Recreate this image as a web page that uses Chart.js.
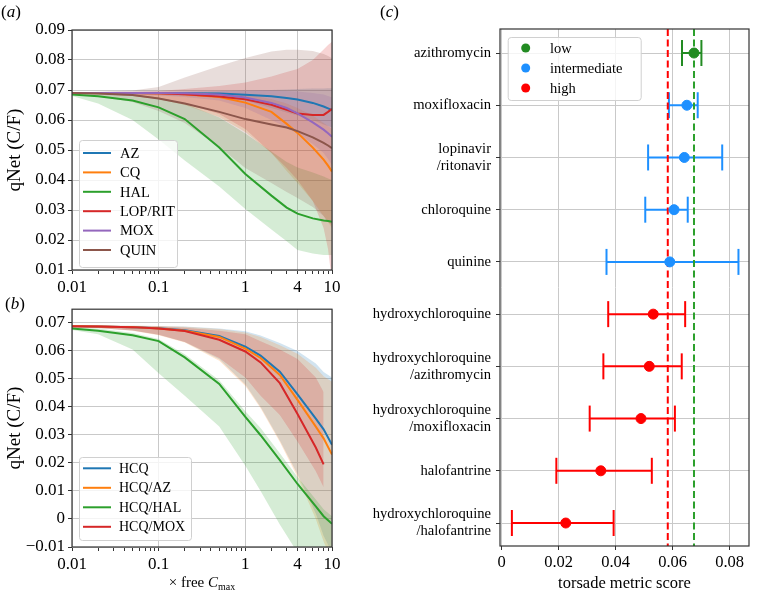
<!DOCTYPE html>
<html>
<head>
<meta charset="utf-8">
<script src="https://cdn.jsdelivr.net/npm/chart.js@4.4.1/dist/chart.umd.min.js"></script>
<style>
  body { margin: 0; background: #fff; width: 764px; height: 594px; position: relative; overflow: hidden;
         font-family: 'Liberation Serif', serif; }
  canvas { position: absolute; }
  .tag { position: absolute; font-size: 17px; color: #000; }
</style>
</head>
<body>
<canvas id="ca" width="370" height="300" style="left:0;top:0"></canvas>
<canvas id="cb" width="370" height="298" style="left:0;top:296px"></canvas>
<canvas id="cc" width="404" height="594" style="left:360px;top:0"></canvas>
<div class="tag" style="left:1px;top:2px">(<i>a</i>)</div>
<div class="tag" style="left:5px;top:294px">(<i>b</i>)</div>
<div class="tag" style="left:380px;top:2px">(<i>c</i>)</div>
<script>
// ---- panel (a): qNet vs concentration, single drugs ----
const xA = [0.01, 0.02, 0.05, 0.1, 0.2, 0.5, 1, 2, 3, 4, 6, 8, 9, 10];
const azMid = [0.069, 0.069, 0.069, 0.069, 0.0689, 0.0688, 0.0684, 0.0679, 0.0673, 0.0668, 0.0657, 0.0645, 0.0639, 0.0633];
const azLo  = [0.0688, 0.0687, 0.0685, 0.0683, 0.068, 0.0675, 0.0665, 0.064, 0.0625, 0.0615, 0.06, 0.0585, 0.058, 0.0575];
const azHi  = [0.0692, 0.0692, 0.0692, 0.0693, 0.0694, 0.0696, 0.0698, 0.07, 0.0702, 0.0703, 0.0705, 0.0705, 0.0706, 0.0706];
const cqMid = [0.069, 0.069, 0.069, 0.0689, 0.0686, 0.0677, 0.0658, 0.0627, 0.0587, 0.0557, 0.0508, 0.0468, 0.0448, 0.0428];
const cqLo  = [0.0688, 0.0686, 0.068, 0.067, 0.065, 0.061, 0.056, 0.049, 0.043, 0.039, 0.033, 0.028, 0.026, 0.024];
const cqHi  = [0.0692, 0.0692, 0.0692, 0.0692, 0.0692, 0.069, 0.0685, 0.067, 0.0655, 0.064, 0.0615, 0.059, 0.058, 0.057];
const halMid = [0.0685, 0.0679, 0.0665, 0.0642, 0.0603, 0.0508, 0.042, 0.0348, 0.0308, 0.0288, 0.0272, 0.0265, 0.0263, 0.0261];
const halLo  = [0.068, 0.0655, 0.06, 0.0535, 0.0465, 0.0378, 0.0303, 0.0235, 0.0196, 0.0167, 0.0155, 0.015, 0.015, 0.015];
const halHi  = [0.069, 0.0689, 0.0685, 0.0675, 0.0655, 0.0608, 0.0555, 0.0495, 0.046, 0.0442, 0.0425, 0.0412, 0.0405, 0.04];
const lopMid = [0.069, 0.069, 0.069, 0.0689, 0.0686, 0.0678, 0.0669, 0.0651, 0.0634, 0.0622, 0.0617, 0.0617, 0.0627, 0.0637];
const lopLo  = [0.0688, 0.0686, 0.068, 0.067, 0.0655, 0.062, 0.057, 0.049, 0.044, 0.04, 0.033, 0.024, 0.017, 0.006];
const lopHi  = [0.0692, 0.0693, 0.0694, 0.0697, 0.0703, 0.0713, 0.0725, 0.0745, 0.076, 0.077, 0.08, 0.0835, 0.085, 0.0861];
const moxMid = [0.069, 0.069, 0.069, 0.069, 0.0689, 0.0685, 0.0675, 0.0657, 0.064, 0.0622, 0.0592, 0.0568, 0.0556, 0.0544];
const moxLo  = [0.0688, 0.0687, 0.0685, 0.0682, 0.0677, 0.0665, 0.064, 0.06, 0.0575, 0.0555, 0.052, 0.049, 0.047, 0.045];
const moxHi  = [0.0692, 0.0692, 0.0693, 0.0694, 0.0695, 0.0697, 0.0698, 0.0698, 0.0697, 0.0695, 0.069, 0.0685, 0.068, 0.0675];
const quinMid = [0.069, 0.0688, 0.0683, 0.0672, 0.0655, 0.0627, 0.0603, 0.0585, 0.0575, 0.0563, 0.0542, 0.0524, 0.0515, 0.0506];
const quinLo  = [0.0688, 0.068, 0.066, 0.063, 0.059, 0.051, 0.044, 0.039, 0.036, 0.034, 0.031, 0.028, 0.026, 0.025];
const quinHi  = [0.0692, 0.0694, 0.0698, 0.071, 0.0742, 0.078, 0.0807, 0.0828, 0.0834, 0.0834, 0.083, 0.082, 0.0813, 0.0806];
const yTicksA = [0.01, 0.02, 0.03, 0.04, 0.05, 0.06, 0.07, 0.08, 0.09];

// ---- panel (b): hydroxychloroquine combinations ----
const xB = [0.01, 0.02, 0.05, 0.1, 0.2, 0.5, 1, 1.5, 2.5, 4, 6.5, 8, 10];
const hcqMid = [0.0688, 0.0687, 0.0685, 0.0681, 0.0674, 0.0653, 0.0615, 0.0583, 0.0526, 0.0445, 0.0358, 0.032, 0.0265];
const hcqLo  = [0.0686, 0.0682, 0.0673, 0.0658, 0.0632, 0.057, 0.048, 0.04, 0.028, 0.016, 0.002, -0.006, -0.012];
const hcqHi  = [0.069, 0.069, 0.069, 0.0689, 0.0687, 0.068, 0.067, 0.0655, 0.0628, 0.060, 0.0555, 0.0525, 0.0505];
const hcqAzMid = [0.0688, 0.0687, 0.0685, 0.068, 0.0672, 0.065, 0.0608, 0.0575, 0.0514, 0.0425, 0.033, 0.0288, 0.023];
const hcqAzLo  = [0.0686, 0.0682, 0.0672, 0.0656, 0.063, 0.0565, 0.0475, 0.0395, 0.0275, 0.015, 0.0, -0.008, -0.015];
const hcqAzHi  = [0.069, 0.069, 0.069, 0.0689, 0.0686, 0.0678, 0.0666, 0.065, 0.062, 0.059, 0.054, 0.051, 0.049];
const hcqHalMid = [0.068, 0.0672, 0.0656, 0.0635, 0.0577, 0.0482, 0.0365, 0.0299, 0.021, 0.0125, 0.0045, 0.001, -0.0017];
const hcqHalLo  = [0.0675, 0.066, 0.0605, 0.052, 0.044, 0.033, 0.019, 0.01, -0.002, -0.012, -0.02, -0.024, -0.028];
const hcqHalHi  = [0.0685, 0.068, 0.0664, 0.0643, 0.0588, 0.0495, 0.0385, 0.0325, 0.0235, 0.015, 0.007, 0.0035, 0.001];
const hcqMoxMid = [0.0688, 0.0687, 0.0685, 0.068, 0.0671, 0.064, 0.0598, 0.0559, 0.0485, 0.0375, 0.0255, 0.0195, null];
const hcqMoxLo  = [0.0686, 0.0682, 0.0673, 0.0658, 0.0632, 0.0575, 0.0505, 0.044, 0.0371, 0.0277, 0.017, 0.0113, null];
const hcqMoxHi  = [0.069, 0.069, 0.0689, 0.0687, 0.0683, 0.0672, 0.066, 0.0635, 0.0605, 0.0571, 0.0505, 0.0453, null];
const yTicksB = [-0.01, 0, 0.01, 0.02, 0.03, 0.04, 0.05, 0.06, 0.07];

// log axis ticks shared by (a) and (b)
const logTicks = [0.01, 0.02, 0.03, 0.04, 0.05, 0.06, 0.07, 0.08, 0.09,
                  0.1, 0.2, 0.3, 0.4, 0.5, 0.6, 0.7, 0.8, 0.9,
                  1, 2, 3, 4, 5, 6, 7, 8, 9, 10];
const logLabels = [0.01, 0.1, 1, 4, 10];

// ---- panel (c): torsade metric score ----
const drugs = [['azithromycin'], ['moxifloxacin'], ['lopinavir', '/ritonavir'], ['chloroquine'], ['quinine'],
               ['hydroxychloroquine'], ['hydroxychloroquine', '/azithromycin'], ['hydroxychloroquine', '/moxifloxacin'],
               ['halofantrine'], ['hydroxychloroquine', '/halofantrine']];
const score   = [0.0675, 0.0650, 0.0641, 0.0605, 0.0590, 0.0532, 0.0518, 0.0489, 0.0348, 0.0225];
const scoreLo = [0.0633, 0.0587, 0.0514, 0.0504, 0.0368, 0.0374, 0.0357, 0.0309, 0.0192, 0.0036];
const scoreHi = [0.0701, 0.0688, 0.0774, 0.0653, 0.0831, 0.0644, 0.0632, 0.0608, 0.0527, 0.0393];
const risk = ['low', 'intermediate', 'intermediate', 'intermediate', 'intermediate', 'high', 'high', 'high', 'high', 'high'];
const riskNames = ['low', 'intermediate', 'high'];
const thresholds = [0.0583, 0.0675];
const xTicksC = [0, 0.02, 0.04, 0.06, 0.08];

const FAM = '"Liberation Serif", "Times New Roman", serif';
const GRID = '#c9c9c9';
const AX = '#333';
const tab = { blue: '#1f77b4', orange: '#ff7f0e', green: '#2ca02c', red: '#d62728', purple: '#9467bd', brown: '#8c564b' };
const riskColor = { low: '#228b22', intermediate: '#1e90ff', high: '#ff0000' };
const thrColor = ['#ff0000', '#2ca02c'];

function alpha(hex, a) {
  const n = parseInt(hex.slice(1), 16);
  return `rgba(${n >> 16},${(n >> 8) & 255},${n & 255},${a})`;
}

// lines on top; bands painted in series order (first series at the bottom), like matplotlib
function seriesDatasets(xs, list) {
  const lines = list.map((s, k) => ({
    label: s.label, data: xs.map((x, i) => ({ x, y: s.mid[i] })),
    borderColor: s.color, borderWidth: 2, pointRadius: 0, fill: false, order: 1 - k * 0.01, spanGaps: false
  }));
  const bands = [];
  list.forEach((s, k) => {
    bands.push({ data: xs.map((x, i) => ({ x, y: s.hi[i] })), borderWidth: 0, pointRadius: 0,
                 backgroundColor: alpha(s.color, 0.2), fill: '+1', order: 20 - k, spanGaps: false });
    bands.push({ data: xs.map((x, i) => ({ x, y: s.lo[i] })), borderWidth: 0, pointRadius: 0,
                 fill: false, order: 20 - k, spanGaps: false });
  });
  return lines.concat(bands);
}

// box around the plotting area
const frame = {
  id: 'frame',
  afterDatasetsDraw(chart) {
    const { ctx, chartArea: a } = chart;
    ctx.save();
    ctx.strokeStyle = AX; ctx.lineWidth = 1.2;
    ctx.strokeRect(a.left, a.top, a.right - a.left, a.bottom - a.top);
    ctx.restore();
  }
};

// matplotlib-like legend box, items taken from labelled datasets
const boxLegend = {
  id: 'boxLegend',
  afterDraw(chart, args, o) {
    if (!o || !o.width) return;
    const ctx = chart.ctx;
    const items = chart.data.datasets.filter(d => d.label);
    ctx.save();
    ctx.fillStyle = 'rgba(255,255,255,0.8)';
    ctx.strokeStyle = '#d0d0d0'; ctx.lineWidth = 1;
    ctx.beginPath();
    ctx.roundRect(o.left + 0.5, o.top + 0.5, o.width, o.height, 3);
    ctx.fill(); ctx.stroke();
    ctx.font = o.font; ctx.textBaseline = 'middle'; ctx.textAlign = 'left';
    items.forEach((d, i) => {
      const y = o.firstRow + i * o.rowH;
      if (o.marker === 'circle') {
        ctx.fillStyle = d.backgroundColor;
        ctx.beginPath(); ctx.arc(o.sampleX, y, 4.5, 0, Math.PI * 2); ctx.fill();
      } else {
        ctx.strokeStyle = d.borderColor; ctx.lineWidth = 2;
        ctx.beginPath(); ctx.moveTo(o.sampleX, y); ctx.lineTo(o.sampleX + o.sampleW, y); ctx.stroke();
      }
      ctx.fillStyle = '#000';
      ctx.fillText(d.label, o.textX, y + 1);
    });
    ctx.restore();
  }
};

// x title with italic symbol and subscript
const subTitle = {
  id: 'subTitle',
  afterDraw(chart, args, o) {
    if (!o || !o.parts) return;
    const { ctx, chartArea: a } = chart;
    ctx.save(); ctx.fillStyle = '#000'; ctx.textBaseline = 'alphabetic'; ctx.textAlign = 'left';
    let total = 0;
    const w = o.parts.map(p => { ctx.font = p.font; const m = ctx.measureText(p.text).width; total += m; return m; });
    let x = (a.left + a.right) / 2 - total / 2;
    o.parts.forEach((p, i) => { ctx.font = p.font; ctx.fillText(p.text, x, o.y + (p.dy || 0)); x += w[i]; });
    ctx.restore();
  }
};

Chart.register(frame, boxLegend, subTitle);
Chart.defaults.font.family = FAM;
Chart.defaults.color = '#000';

function logX(height) {
  return {
    type: 'logarithmic', min: 0.01, max: 10,
    afterBuildTicks: s => { s.ticks = logTicks.map(v => ({ value: v })); },
    ticks: { autoSkip: false, maxRotation: 0, padding: 3, font: { size: 17 }, color: '#000',
             callback: v => logLabels.includes(v) ? String(v) : '' },
    grid: { color: c => (c.tick && logLabels.includes(c.tick.value)) ? GRID : 'rgba(0,0,0,0)',
            tickColor: AX, tickLength: 4, lineWidth: 1 },
    border: { display: false },
    afterFit: s => { s.height = height; }
  };
}

function qY(min, max, ticks) {
  return {
    min, max,
    afterBuildTicks: s => { s.ticks = ticks.map(v => ({ value: v })); },
    ticks: { padding: 3, font: { size: 17 }, color: '#000',
             callback: v => Math.abs(v) < 1e-9 ? '0' : (v < 0 ? '\u2212' + (-v).toFixed(2) : v.toFixed(2)) },
    grid: { color: GRID, tickColor: AX, tickLength: 4 },
    border: { display: false },
    title: { display: true, text: 'qNet (C/F)', font: { size: 19 }, color: '#000', padding: { top: 4, bottom: 0 } },
    afterFit: s => { s.width = 72; }
  };
}

const common = { responsive: false, animation: false, devicePixelRatio: 1,
                 plugins: { legend: { display: false }, tooltip: { enabled: false } } };

// panel (a)
new Chart(document.getElementById('ca'), {
  type: 'line',
  data: { datasets: seriesDatasets(xA, [
    { label: 'AZ', color: tab.blue, mid: azMid, lo: azLo, hi: azHi },
    { label: 'CQ', color: tab.orange, mid: cqMid, lo: cqLo, hi: cqHi },
    { label: 'HAL', color: tab.green, mid: halMid, lo: halLo, hi: halHi },
    { label: 'LOP/RIT', color: tab.red, mid: lopMid, lo: lopLo, hi: lopHi },
    { label: 'MOX', color: tab.purple, mid: moxMid, lo: moxLo, hi: moxHi },
    { label: 'QUIN', color: tab.brown, mid: quinMid, lo: quinLo, hi: quinHi }
  ]) },
  options: { ...common,
    layout: { padding: { top: 30, right: 38, left: 0, bottom: 0 } },
    scales: { x: logX(30), y: qY(0.01, 0.09, yTicksA) },
    plugins: { ...common.plugins,
      boxLegend: { left: 79, top: 140, width: 98, height: 127, firstRow: 153, rowH: 19.4,
                   sampleX: 83, sampleW: 28, textX: 120, font: '14.5px ' + FAM } } }
});

// panel (b)
new Chart(document.getElementById('cb'), {
  type: 'line',
  data: { datasets: seriesDatasets(xB, [
    { label: 'HCQ', color: tab.blue, mid: hcqMid, lo: hcqLo, hi: hcqHi },
    { label: 'HCQ/AZ', color: tab.orange, mid: hcqAzMid, lo: hcqAzLo, hi: hcqAzHi },
    { label: 'HCQ/HAL', color: tab.green, mid: hcqHalMid, lo: hcqHalLo, hi: hcqHalHi },
    { label: 'HCQ/MOX', color: tab.red, mid: hcqMoxMid, lo: hcqMoxLo, hi: hcqMoxHi }
  ]) },
  options: { ...common,
    layout: { padding: { top: 10, right: 38, left: 0, bottom: 0 } },
    scales: { x: logX(47), y: qY(-0.01, 0.0749, yTicksB) },
    plugins: { ...common.plugins,
      boxLegend: { left: 79, top: 161, width: 112, height: 83, firstRow: 172.3, rowH: 19.5,
                   sampleX: 83, sampleW: 28, textX: 119, font: '14px ' + FAM },
      subTitle: { y: 291, parts: [
        { text: '\u00d7 free ', font: '15px ' + FAM },
        { text: 'C', font: 'italic 15px ' + FAM },
        { text: 'max', font: '10px ' + FAM, dy: 3 } ] } } }
});

// panel (c)
const cSets = [];
riskNames.forEach(r => {
  cSets.push({ label: r, type: 'scatter', order: 0, backgroundColor: riskColor[r], borderColor: riskColor[r],
               pointRadius: 5, pointHoverRadius: 5,
               data: score.map((v, i) => risk[i] === r ? { x: v, y: i } : null).filter(Boolean) });
});
thresholds.forEach((t, k) => {
  cSets.push({ type: 'line', order: 1, showLine: true, borderColor: thrColor[k], borderWidth: 2,
               borderDash: [7, 3.5], pointRadius: 0, data: [{ x: t, y: -0.46 }, { x: t, y: 9.44 }] });
});
score.forEach((v, i) => {
  const c = riskColor[risk[i]];
  cSets.push({ type: 'line', order: 2, showLine: true, borderColor: c, borderWidth: 2,
               pointStyle: 'line', rotation: 90, pointRadius: 13, pointBorderWidth: 2, pointBorderColor: c,
               data: [{ x: scoreLo[i], y: i }, { x: scoreHi[i], y: i }] });
});

new Chart(document.getElementById('cc'), {
  type: 'scatter',
  data: { datasets: cSets },
  options: { ...common,
    layout: { padding: { top: 29, right: 5, left: 0, bottom: 0 } },
    scales: {
      x: { min: -0.00057, max: 0.0868,
           afterBuildTicks: s => { s.ticks = xTicksC.map(v => ({ value: v })); },
           ticks: { padding: 3, font: { size: 16.5 }, color: '#000', maxRotation: 0,
                    callback: v => Math.abs(v) < 1e-9 ? '0' : v.toFixed(2) },
           grid: { color: GRID, tickColor: AX, tickLength: 4 },
           border: { display: false },
           title: { display: true, text: 'torsade metric score', font: { size: 16.5 }, color: '#000',
                    padding: { top: 0, bottom: 0 } },
           afterFit: s => { s.height = 48; } },
      y: { reverse: true, min: -0.46, max: 9.44,
           afterBuildTicks: s => { s.ticks = drugs.map((d, i) => ({ value: i })); },
           ticks: { padding: 5, font: { size: 14.6, lineHeight: 1.15 }, color: '#000', autoSkip: false,
                    callback: v => drugs[v] },
           grid: { color: GRID, tickColor: AX, tickLength: 4 },
           border: { display: false },
           afterFit: s => { s.width = 140; } }
    },
    plugins: { ...common.plugins,
      boxLegend: { left: 147.7, top: 37, width: 133, height: 63, firstRow: 48, rowH: 20,
                   marker: 'circle', sampleX: 165.7, textX: 190, font: '14.5px ' + FAM } } }
});
</script>
</body>
</html>
